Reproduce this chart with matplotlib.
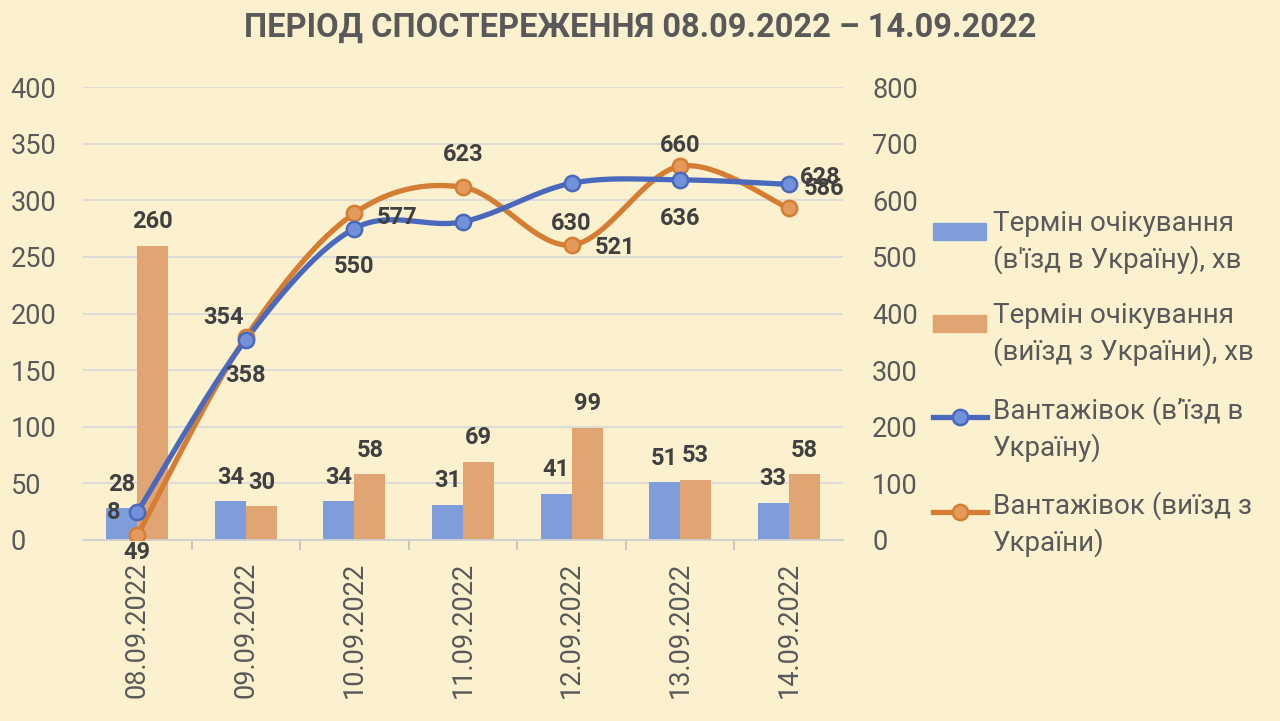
import numpy as np
import matplotlib.pyplot as plt
from matplotlib.patches import Rectangle
from matplotlib.lines import Line2D

plt.rcParams['font.family'] = ['Roboto', 'DejaVu Sans']

# data
dates = ['08.09.2022', '09.09.2022', '10.09.2022', '11.09.2022',
         '12.09.2022', '13.09.2022', '14.09.2022']
wait_in = [28, 34, 34, 31, 41, 51, 33]
wait_out = [260, 30, 58, 69, 99, 53, 58]
trucks_in = [49, 354, 550, 562, 630, 636, 628]
trucks_out = [8, 358, 577, 623, 521, 660, 586]
# data labels as they appear on the chart
trucks_in_labels = ['8', '354', '550', '', '630', '636', '628']
trucks_out_labels = ['49', '358', '577', '623', '521', '660', '586']

legend_labels = ['Термін очікування\n(в\'їзд в Україну), хв',
                 'Термін очікування\n(виїзд з України), хв',
                 'Вантажівок (в’їзд в\nУкраїну)',
                 'Вантажівок (виїзд з\nУкраїни)']

bg = '#FBF1CF'
grey_txt = '#595959'
lbl_txt = '#404040'
c_bar_in, c_bar_out = '#7F9DDB', '#E1A573'
c_line_in, c_line_out = '#4A69BD', '#D57D32'
c_mark_in, c_mark_out = '#7391D8', '#E49A5A'


def smooth(xs, ys, n=40):
    # bezier smoothing similar to the spreadsheet "smoothed line"
    p = np.column_stack([xs, ys]).astype(float)
    p = np.vstack([p[0], p, p[-1]])
    out = []
    t = np.linspace(0, 1, n)[:, None]
    for i in range(1, len(p) - 2):
        p0, p3 = p[i], p[i + 1]
        p1 = p0 + (p[i + 1] - p[i - 1]) / 6
        p2 = p3 - (p[i + 2] - p[i]) / 6
        seg = ((1 - t) ** 3 * p0 + 3 * (1 - t) ** 2 * t * p1
               + 3 * (1 - t) * t ** 2 * p2 + t ** 3 * p3)
        out.append(seg if i == 1 else seg[1:])
    out = np.vstack(out)
    return out[:, 0], out[:, 1]


fig = plt.figure(figsize=(12.8, 7.21), dpi=100, facecolor=bg)
W, H = 1280, 721
ax = fig.add_axes([83 / W, 1 - 540 / H, 760 / W, 453 / H])
ax.set_facecolor('none')
x = np.arange(len(dates))
bw = 0.285

b1 = ax.bar(x - bw / 2, wait_in, bw, color=c_bar_in, zorder=2)
b2 = ax.bar(x + bw / 2, wait_out, bw, color=c_bar_out, zorder=2)
for bars in (b1, b2):
    ax.bar_label(bars, padding=9, fontsize=17, fontweight='bold', color=lbl_txt)

ax.set_ylim(0, 400)
ax.set_yticks(np.arange(0, 401, 50))
ax.set_xlim(-0.5, len(dates) - 0.5)
ax.grid(axis='y', color='#D9D9D9', linewidth=1.3, zorder=0)
ax.set_xticks(x)
ax.set_xticklabels(dates, rotation=90, fontsize=19.5, color=grey_txt)
ax.set_xticks(x[:-1] + 0.5, minor=True)
ax.tick_params(axis='x', which='major', length=0, pad=16)
ax.tick_params(axis='x', which='minor', length=7, color='#BFBFBF', width=1.2)
ax.tick_params(axis='y', length=0, pad=52, labelsize=19.5, labelcolor=grey_txt)
for lab in ax.get_yticklabels():
    lab.set_horizontalalignment('left')
for s in ['top', 'left', 'right']:
    ax.spines[s].set_visible(False)
ax.spines['bottom'].set_color('#D0D0D0')
ax.spines['bottom'].set_linewidth(1.3)

ax2 = ax.twinx()
ax2.set_ylim(0, 800)
ax2.set_yticks(np.arange(0, 801, 100))
ax2.tick_params(axis='y', length=0, pad=21, labelsize=19.5, labelcolor=grey_txt)
for s in ['top', 'left', 'right', 'bottom']:
    ax2.spines[s].set_visible(False)

for vals, lc, mc in [(trucks_out, c_line_out, c_mark_out),
                     (trucks_in, c_line_in, c_mark_in)]:
    sx, sy = smooth(x, vals)
    ax2.plot(sx, sy, color=lc, linewidth=3.8, solid_capstyle='round', zorder=3)
    ax2.plot(x, vals, 'o', color=lc, markerfacecolor=mc, markeredgecolor=lc,
             markersize=11, markeredgewidth=1.8, zorder=4)

in_offsets = [(-24, 0), (-22, 22), (0, -38), (0, 0), (0, -40), (0, -39), (32, 7)]
out_offsets = [(0, -17), (0, -38), (43, -4), (0, 33), (43, -3), (0, 21), (35, 20)]
for vals, labs, offs in [(trucks_in, trucks_in_labels, in_offsets),
                         (trucks_out, trucks_out_labels, out_offsets)]:
    for xi, v, t, (dx, dy) in zip(x, vals, labs, offs):
        if t:
            ax2.annotate(t, (xi, v), xytext=(dx, dy), textcoords='offset pixels',
                         ha='center', va='center', fontsize=17,
                         fontweight='bold', color=lbl_txt, zorder=5)

fig.text(0.5, 1 - 28 / H, 'ПЕРІОД СПОСТЕРЕЖЕННЯ 08.09.2022 – 14.09.2022',
         ha='center', va='center', fontsize=23.5, fontweight='bold', color=grey_txt)

# legend drawn by hand so handles align with the first text line
first_line_y = [231, 323, 417, 512]
for i, (lab, yy) in enumerate(zip(legend_labels, first_line_y)):
    fy = 1 - yy / H
    if i < 2:
        fig.patches.append(Rectangle((933 / W, fy - 8.5 / H), 53 / W, 17 / H,
                                     transform=fig.transFigure,
                                     color=[c_bar_in, c_bar_out][i]))
    else:
        lc = [c_line_in, c_line_out][i - 2]
        mc = [c_mark_in, c_mark_out][i - 2]
        fig.lines.append(Line2D([933 / W, 987 / W], [fy, fy], color=lc,
                                linewidth=3.8, transform=fig.transFigure))
        fig.lines.append(Line2D([960 / W], [fy], marker='o', color=lc,
                                markerfacecolor=mc, markersize=11,
                                markeredgewidth=1.8, transform=fig.transFigure))
    fig.text(993 / W, fy + 21 / H, lab, ha='left', va='top', fontsize=20,
             color=grey_txt, linespacing=1.38)

fig.savefig('out.png', dpi=100, facecolor=bg)
plt.close(fig)
